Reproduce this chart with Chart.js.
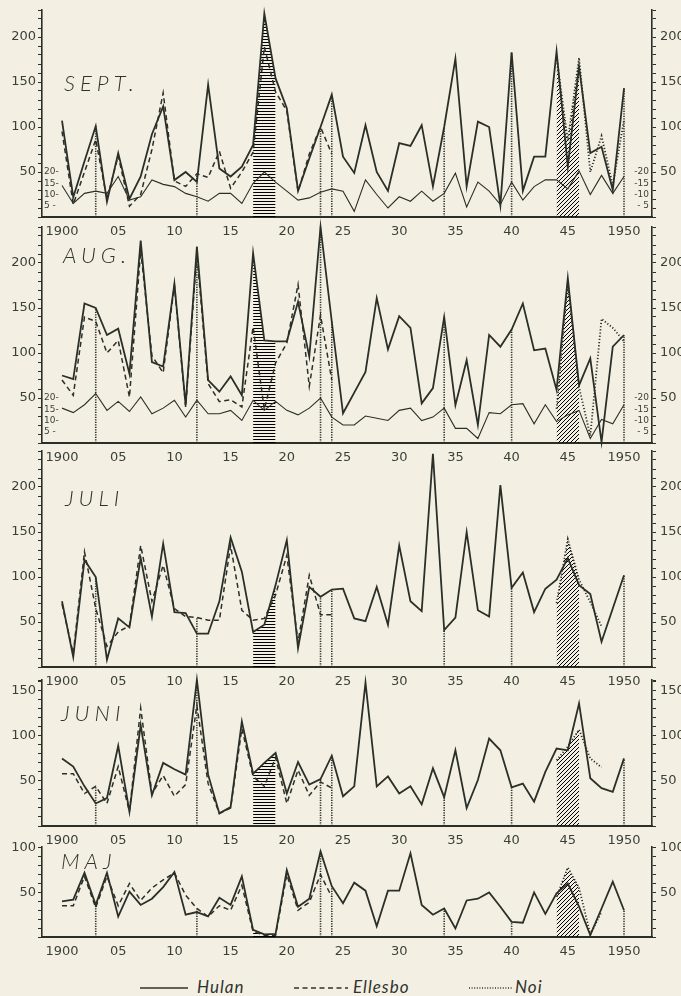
<!DOCTYPE html>
<html>
<head>
<meta charset="utf-8">
<title>Hulan, Ellesbo, Noi 1900–1950</title>
<script src="https://cdn.jsdelivr.net/npm/chart.js@4.4.1/dist/chart.umd.min.js"></script>
<style>
  html, body { margin: 0; padding: 0; background: #f3f0e3; }
  #page { position: relative; width: 681px; height: 996px; overflow: hidden; }
  canvas { position: absolute; left: 0; }
  .month { position: absolute; font: italic 300 22px Lato, "DejaVu Sans", sans-serif;
           letter-spacing: 5px; color: #2f332d; line-height: 1; }
  .lg { position: absolute; top: 979px; height: 18px; }
  .lgtxt { position: absolute; top: 978px; font: italic 17px Lato, "DejaVu Sans", sans-serif;
           color: #2f332d; line-height: 18px; letter-spacing: 1px; }
</style>
</head>
<body>
<div id="page">
  <canvas id="sept"></canvas>
  <canvas id="aug"></canvas>
  <canvas id="juli"></canvas>
  <canvas id="juni"></canvas>
  <canvas id="maj"></canvas>

  <div class="month" style="left:64px;top:72px">SEPT.</div>
  <div class="month" style="left:63px;top:244px">AUG.</div>
  <div class="month" style="left:65px;top:487px">JULI</div>
  <div class="month" style="left:61px;top:702px">JUNI</div>
  <div class="month" style="left:61px;top:850px">MAJ</div>

  <svg class="lg" style="left:140px" width="50" height="18"><line x1="0" y1="9" x2="48" y2="9" stroke="#2f332d" stroke-width="1.6"/></svg>
  <div class="lgtxt" style="left:197px">Hulan</div>
  <svg class="lg" style="left:294px" width="58" height="18"><line x1="0" y1="9" x2="54" y2="9" stroke="#2f332d" stroke-width="1.4" stroke-dasharray="5 3.5"/></svg>
  <div class="lgtxt" style="left:353px">Ellesbo</div>
  <svg class="lg" style="left:469px" width="46" height="18"><line x1="0" y1="9" x2="44" y2="9" stroke="#2f332d" stroke-width="1.4" stroke-dasharray="1 1.6"/></svg>
  <div class="lgtxt" style="left:515px">Noi</div>
</div>

<script>
// years on the x axis
const years = Array.from({length: 51}, (_, i) => 1900 + i);
const ellesboYears = years.slice(0, 25);   // 1900-1924
const noiYears = years.slice(44);          // 1944-1950
const xTickYears = [1900, 1905, 1910, 1915, 1920, 1925, 1930, 1935, 1940, 1945, 1950];
const xTickLabels = ['1900', '05', '10', '15', '20', '25', '30', '35', '40', '45', '1950'];
const markerYears = [1903, 1912, 1923, 1924, 1934, 1940, 1950];
const hatchYearsH = [1917, 1918, 1919];
const hatchYearsD = [1944, 1945, 1946];
const dayTicks = [5, 10, 15, 20];

// SEPT.
const sepHulan = [107,22,62,101,17,71,20,45,92,123, 41,50,39,147,54,45,56,80,226,154,
                  121,29,65,100,136,67,49,102,50,29, 82,79,102,34,100,176,34,106,100,13,
                  183,29,67,67,184,56,167,71,78,30, 143];
const sepEllesbo = [95,14,50,86,20,68,12,25,75,138, 40,34,48,44,73,32,50,72,189,139, 118,28,70,100,70];
const sepNoi = [178,85,177,50,90,35,108];
const sepDays = [14,6,10.5,11.5,10.5,18,7.5,9,16.5,14.5, 13.5,10.5,9,7,10.5,10.5,6,15,20,15.5,
                 11.5,7.5,8.5,11,12.5,11.5,2.5,16.5,10,4, 9,7,11.5,7,10.5,19.5,4.5,15.5,11.5,5.5,
                 15.5,7.5,13.5,16.5,16.5,12.5,20.5,10,18.5,10.5, 18];

// AUG.
const augHulan = [75,71,155,150,120,127,77,225,90,85, 177,42,218,70,57,74,53,211,114,113,
                  113,157,96,240,135,33,56,79,161,104, 141,128,44,61,140,42,92,20,120,107,
                  126,155,103,105,59,183,64,94,1,107, 120];
const augEllesbo = [70,53,140,135,100,114,51,214,97,78, 175,40,210,66,46,48,40,129,37,89, 111,176,63,142,70];
const augNoi = [38,178,62,8,138,128,113];
const augDays = [15.5,13.5,17,22,14.5,18.5,14,20.5,13,15.5, 19,11.5,19,13,13,14.5,10,19,14.5,18.5,
                 14.5,12.5,15.5,20,11.5,8,8,12,11,10, 14.5,15.5,10,11.5,15.5,6.5,6.5,2,13.5,13,
                 17,17.5,8.5,17,9.5,12.5,14.5,2,10.5,8.5, 17];

// JULI
const julHulan = [73,11,119,100,8,54,44,121,56,137, 61,60,37,37,73,144,106,39,47,91,
                  141,21,89,78,86,87,54,51,89,47, 135,73,62,237,41,55,150,63,56,202,
                  88,105,61,87,97,121,91,81,28,65, 102];
const julEllesbo = [70,15,128,65,23,39,46,135,73,113, 65,56,55,52,52,135,63,52,54,80, 124,28,102,58,58];
const julNoi = [71,142,97,72,45,null,null];

// JUNI
const junHulan = [75,66,44,25,31,89,16,112,34,70, 63,57,162,57,14,21,116,58,70,81,
                  36,71,46,52,78,33,44,159,44,55, 36,44,24,64,32,84,20,51,97,84,
                  43,47,27,60,86,84,136,53,42,38, 75];
const junEllesbo = [58,58,36,44,25,66,16,131,36,56, 33,46,134,47,14,20,108,55,44,76, 25,62,34,49,42];
const junNoi = [73,88,107,75,65,null,null];

// MAJ
const majHulan = [40,42,72,36,72,23,51,36,43,56, 73,25,28,23,44,36,68,8,3,3.5,
                  75,34,43,96,57,38,61,52,12,52, 52,94,36,25,32,9.5,41,43,50,34,
                  17,16,50,26,49,60,34,2,32,62, 30];
const majEllesbo = [35,35,68,33,68,35,60,41,55,64, 72,47,32,23,35,30,58,6,2,2, 70,30,39,70,45];
const majNoi = [45,78,55,3,28,null,null];

const INK = '#2b2f29';
const TXT = '#3b3f39';
const TICK_FONT = '"DejaVu Sans", sans-serif';
const PAD_T = 10;
const XAXIS_H = 28;

Chart.defaults.font.family = TICK_FONT;
Chart.defaults.color = TXT;
Chart.defaults.animation = false;

function makePattern(kind) {
  const c = document.createElement('canvas');
  const ctx = c.getContext('2d');
  ctx.strokeStyle = 'rgba(43,47,41,0.6)';
  ctx.lineWidth = 0.8;
  if (kind === 'h') {
    c.width = 6; c.height = 3;
    ctx.beginPath(); ctx.moveTo(0, 0.5); ctx.lineTo(6, 0.5); ctx.stroke();
  } else {
    c.width = 4; c.height = 4;
    ctx.beginPath();
    ctx.moveTo(-1, 5); ctx.lineTo(5, -1);
    ctx.stroke();
  }
  return ctx.createPattern(c, 'repeat');
}
const hatchH = makePattern('h');
const hatchD = makePattern('d');

const panels = [
  {id: 'sept', top: 10, bottom: 217, max: 230, hulan: sepHulan, ellesbo: sepEllesbo, noi: sepNoi, days: sepDays},
  {id: 'aug', top: 227, bottom: 443, max: 240, hulan: augHulan, ellesbo: augEllesbo, noi: augNoi, days: augDays},
  {id: 'juli', top: 451, bottom: 667, max: 240, hulan: julHulan, ellesbo: julEllesbo, noi: julNoi},
  {id: 'juni', top: 680, bottom: 826, max: 162, hulan: junHulan, ellesbo: junEllesbo, noi: junNoi},
  {id: 'maj', top: 847, bottom: 937, max: 101, hulan: majHulan, ellesbo: majEllesbo, noi: majNoi}
];

const pts = (yrs, vals) => yrs.map((x, i) => ({x: x, y: vals[i]}));
const valueAt = (yrs, vals, yr) => { const i = yrs.indexOf(yr); return i < 0 ? null : vals[i]; };

function mainAxis(p, side) {
  return {
    type: 'linear', position: side, weight: 1, min: 0, max: p.max,
    afterBuildTicks: s => {
      const t = [];
      for (let v = 0; v <= p.max; v += 10) t.push({value: v});
      if (p.max % 10) t.push({value: p.max});
      s.ticks = t;
    },
    ticks: {
      autoSkip: false, padding: side === 'left' ? 2 : 4,
      font: {size: 13}, color: TXT,
      callback: v => (v > 0 && v % 50 === 0) ? String(v) : ''
    },
    grid: {drawOnChartArea: false, tickLength: 4, color: INK, tickWidth: 1},
    border: {color: INK, width: 1.6},
    afterFit: s => { s.width = side === 'left' ? 42 : 29; s.paddingTop = 0; s.paddingBottom = 0; }
  };
}

function dayAxis(p, side) {
  return {
    type: 'linear', position: side, weight: 0, min: 0, max: p.max / 2.5,
    afterBuildTicks: s => { s.ticks = dayTicks.map(v => ({value: v})); },
    ticks: {
      mirror: true, padding: side === 'left' ? 2 : -3, autoSkip: false,
      font: {size: 9}, color: TXT,
      callback: v => side === 'left' ? (v < 10 ? v + ' -' : v + '-') : (v < 10 ? '- ' + v : '-' + v)
    },
    grid: {display: false},
    border: {display: false},
    afterFit: s => { s.width = 0; s.paddingTop = 0; s.paddingBottom = 0; }
  };
}

function buildPanel(p) {
  const cv = document.getElementById(p.id);
  cv.width = 681;
  cv.height = (p.bottom - p.top) + PAD_T + XAXIS_H;
  cv.style.top = (p.top - PAD_T) + 'px';

  // dotted verticals from the axis up to the curves
  const marks = [];
  markerYears.forEach(yr => {
    const vals = [valueAt(years, p.hulan, yr), valueAt(ellesboYears, p.ellesbo, yr), valueAt(noiYears, p.noi, yr)]
      .filter(v => v !== null);
    marks.push({x: yr, y: 0}, {x: yr, y: Math.max(...vals)}, {x: yr, y: null});
  });

  const line = {pointRadius: 0, tension: 0, fill: false, clip: false, borderColor: INK, spanGaps: false};
  const datasets = [
    Object.assign({label: 'Hulan', data: pts(years, p.hulan), borderWidth: 1.8}, line),
    Object.assign({label: 'Ellesbo', data: pts(ellesboYears, p.ellesbo), borderWidth: 1.5, borderDash: [5, 3.5]}, line),
    Object.assign({label: 'Noi', data: pts(noiYears, p.noi), borderWidth: 1.8, borderDash: [1.2, 2]}, line)
  ];
  if (p.days) {
    datasets.push(Object.assign({label: 'days', data: pts(years, p.days), yAxisID: 'yS', borderWidth: 1.1}, line));
  }
  datasets.push(Object.assign({label: 'marks', data: marks, borderWidth: 1.6, borderDash: [1.2, 1.3]}, line));
  datasets.push(Object.assign({}, line, {
    label: 'hatchH', data: hatchYearsH.map(yr => ({x: yr, y: valueAt(years, p.hulan, yr)})),
    fill: 'origin', backgroundColor: hatchH, borderWidth: 0
  }));
  datasets.push(Object.assign({}, line, {
    label: 'hatchD', data: hatchYearsD.map(yr => ({x: yr, y: valueAt(noiYears, p.noi, yr) ?? valueAt(years, p.hulan, yr)})),
    fill: 'origin', backgroundColor: hatchD, borderWidth: 0
  }));

  const scales = {
    x: {
      type: 'linear', min: 1898.22, max: 1952.49,
      afterBuildTicks: s => { s.ticks = xTickYears.map(v => ({value: v})); },
      ticks: {
        autoSkip: false, maxRotation: 0, padding: 7,
        font: {size: 13}, color: TXT,
        callback: (v, i) => xTickLabels[i]
      },
      grid: {drawOnChartArea: false, drawTicks: false},
      border: {color: INK, width: 2},
      afterFit: s => { s.height = XAXIS_H; s.paddingLeft = 0; s.paddingRight = 0; }
    },
    y: mainAxis(p, 'left'),
    yR: mainAxis(p, 'right')
  };
  if (p.days) {
    scales.yS = dayAxis(p, 'left');
    scales.ySR = dayAxis(p, 'right');
  }

  return new Chart(cv, {
    type: 'line',
    data: {datasets: datasets},
    options: {
      responsive: false,
      devicePixelRatio: 1,
      layout: {padding: {top: PAD_T, left: 0, right: 0, bottom: 0}},
      scales: scales,
      plugins: {legend: {display: false}, tooltip: {enabled: false}}
    }
  });
}

panels.forEach(buildPanel);
</script>
</body>
</html>
